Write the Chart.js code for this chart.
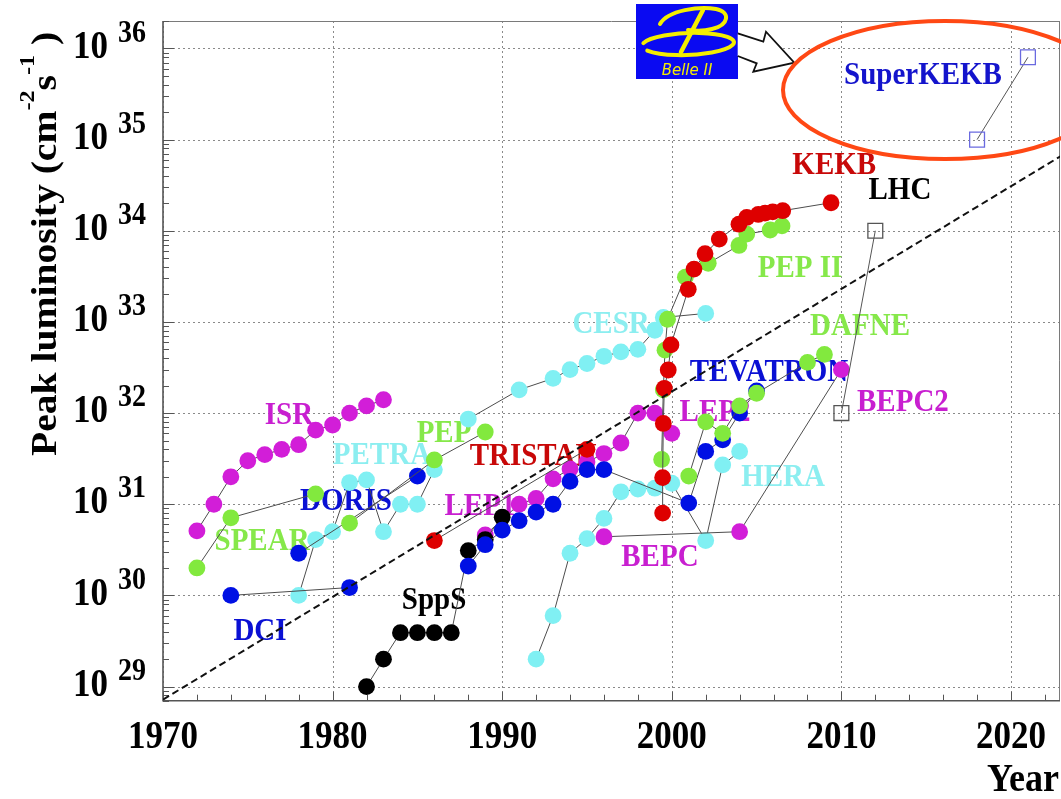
<!DOCTYPE html>
<html>
<head>
<meta charset="utf-8">
<title>Peak luminosity of colliders</title>
<script src="https://cdn.jsdelivr.net/npm/chart.js@4.4.1/dist/chart.umd.min.js"></script>
<style>
  html, body { margin: 0; padding: 0; background: #ffffff; }
  #wrap { width: 1061px; height: 799px; }
</style>
</head>
<body>
<div id="wrap"><canvas id="lumi" width="1061" height="799"></canvas></div>
<script>
// ---- collider peak luminosities (cm^-2 s^-1) by year ----
const petraYears = [1978, 1979, 1980, 1981, 1982, 1983, 1984, 1985, 1986];
const petraLum   = [1.0e30, 4.1e30, 5.0e30, 1.73e31, 1.85e31, 5.0e30, 1.0e31, 1.0e31, 2.4e31];
const cesrYears  = [1988, 1991, 1993, 1994, 1995, 1996, 1997, 1998, 1999, 1999.5, 2002];
const cesrLum    = [8.6e31, 1.8e32, 2.4e32, 3.0e32, 3.5e32, 4.2e32, 4.7e32, 5.0e32, 8.1e32, 1.12e33, 1.24e33];
const heraYears  = [1992, 1993, 1994, 1995, 1996, 1997, 1998, 1999, 2000, 2002, 2003, 2004];
const heraLum    = [2.0e29, 6.0e29, 2.9e30, 4.2e30, 7.0e30, 1.37e31, 1.47e31, 1.5e31, 1.7e31, 4.0e30, 2.7e31, 3.8e31];

const isrYears   = [1972, 1973, 1974, 1975, 1976, 1977, 1978, 1979, 1980, 1981, 1982, 1983];
const isrLum     = [5.1e30, 1.0e31, 2.0e31, 3.0e31, 3.5e31, 4.0e31, 4.5e31, 6.5e31, 7.4e31, 1.0e32, 1.2e32, 1.4e32];
const lepYears   = [1989, 1991, 1992, 1993, 1994, 1995, 1996, 1997, 1998, 1999, 2000];
const lepLum     = [4.6e30, 1.0e31, 1.16e31, 1.9e31, 2.44e31, 2.9e31, 3.6e31, 4.7e31, 1.0e32, 1.0e32, 6.0e31];
const bepcYears  = [1996, 2004, 2010];
const bepcLum    = [4.4e30, 5.0e30, 3.0e32];

const sppsYears  = [1982, 1983, 1984, 1985, 1986, 1987, 1988, 1989, 1990];
const sppsLum    = [1.0e29, 2.0e29, 3.9e29, 3.9e29, 3.9e29, 3.9e29, 3.1e30, 4.1e30, 7.2e30];

const dciYears   = [1974, 1981];
const dciLum     = [1.0e30, 1.22e30];
const dorisYears = [1978, 1985];
const dorisLum   = [2.9e30, 2.04e31];
const tevYears   = [1988, 1989, 1990, 1991, 1992, 1993, 1994, 1995, 1996, 2001, 2002, 2003, 2004, 2005];
const tevLum     = [2.1e30, 3.6e30, 5.2e30, 6.6e30, 8.2e30, 1.0e31, 1.78e31, 2.4e31, 2.4e31, 1.03e31, 3.8e31, 5.1e31, 1.0e32, 1.75e32];

const spearYears = [1972, 1974, 1979];
const spearLum   = [2.0e30, 7.1e30, 1.3e31];
const pepYears   = [1981, 1986, 1989];
const pepLum     = [6.2e30, 3.06e31, 6.2e31];
const pep2Years  = [1999.4, 1999.5, 1999.6, 1999.75, 2000.8, 2002.15, 2003.96, 2004.42, 2005.8, 2006.5];
const pep2Lum    = [3.1e31, 1.8e32, 4.9e32, 1.07e33, 3.1e33, 4.4e33, 6.9e33, 9.2e33, 1.02e34, 1.13e34];
const dafneYears = [2001, 2002, 2003, 2004, 2005, 2008, 2009];
const dafneLum   = [2.04e31, 8.0e31, 6.0e31, 1.2e32, 1.65e32, 3.6e32, 4.4e32];

const tristanYears = [1986, 1995];
const tristanLum   = [4.0e30, 4.0e31];
const kekbYears  = [1999.46, 1999.46, 1999.5, 1999.56, 1999.79, 1999.95, 2000.97, 2001.31, 2001.96, 2002.8, 2003.96, 2004.42, 2005.1, 2005.5, 2005.95, 2006.54, 2009.39];
const kekbLum    = [8.0e30, 1.96e31, 7.7e31, 1.87e32, 2.97e32, 5.6e32, 2.28e33, 3.8e33, 5.6e33, 8.1e33, 1.18e34, 1.4e34, 1.51e34, 1.56e34, 1.61e34, 1.66e34, 2.03e34];

const lhcYears   = [2010, 2012];
const lhcLum     = [1.0e32, 1.0e34];
const skekbYears = [2018, 2021];
const skekbLum   = [1.0e35, 8.0e35];

// trend line (dashed)
const trendYears = [1970, 2023];
const trendLum   = [7.2e28, 6.7e34];

// axis range
const yearMin = 1970, yearMax = 2022.89;
const lumMin = 7.0e28, lumMax = 2.0e36;

// machine name labels: anchor year and log10 of luminosity at the text centre
const labelNames = ['ISR', 'PETRA', 'PEP', 'DORIS', 'SPEAR', 'DCI', 'SppS', 'LEP1', 'TRISTAN', 'CESR',
                    'KEKB', 'LHC', 'PEP II', 'DAFNE', 'TEVATRON', 'LEP2', 'BEPC2', 'HERA', 'BEPC', 'SuperKEKB'];
const labelYears = [1977.43, 1982.91, 1986.57, 1980.79, 1975.84, 1975.72, 1985.98, 1988.69, 1991.82, 1996.42,
                    2009.58, 2013.45, 2007.56, 2011.1, 2005.73, 2002.55, 2013.63, 2006.56, 1999.3, 2014.81];
const labelExps  = [31.968, 31.53, 31.77, 31.025, 30.586, 29.60, 29.94, 30.97, 31.52, 32.967,
                    34.72, 34.435, 33.59, 32.954, 32.44, 32.01, 32.11, 31.29, 30.42, 35.70];

const C = {
  magenta: '#d21ed8', cyan: '#80f0f3', green: '#82e93e', blue: '#0010e4', red: '#de0000', black: '#000000'
};
const T = {
  magenta: '#c81fd0', cyan: '#8ceef0', green: '#86e84a', blue: '#0a10d4', red: '#c80808', black: '#000000', sk: '#1414cc'
};
const labelColors = [T.magenta, T.cyan, T.green, T.blue, T.green, T.blue, T.black, T.magenta, T.red, T.cyan,
                     T.red, T.black, T.green, T.green, T.blue, T.magenta, T.magenta, T.cyan, T.magenta, T.sk];

const pts = (xs, ys) => xs.map((v, i) => ({ x: v, y: ys[i] }));

function machine(name, xs, ys, color, order) {
  return {
    type: 'scatter', label: name, data: pts(xs, ys), showLine: true,
    borderColor: '#4d4d4d', borderWidth: 1, tension: 0,
    pointRadius: 8.4, pointHoverRadius: 8.4,
    pointBackgroundColor: color, pointBorderColor: color, pointBorderWidth: 0,
    order: order
  };
}
function planned(name, xs, ys, edge) {
  return {
    type: 'scatter', label: name, data: pts(xs, ys), showLine: true,
    borderColor: '#555555', borderWidth: 1, tension: 0,
    pointStyle: 'rect', pointRadius: 10.5, pointHoverRadius: 10.5,
    pointBackgroundColor: 'rgba(255,255,255,0)', pointBorderColor: edge, pointBorderWidth: 1.3,
    order: 1
  };
}

const datasets = [
  {
    type: 'scatter', label: 'trend', data: pts(trendYears, trendLum), showLine: true,
    borderColor: '#111111', borderWidth: 2, borderDash: [7, 4], pointRadius: 0, tension: 0, order: 0
  },
  planned('LHC', lhcYears, lhcLum, '#555555'),
  planned('SuperKEKB', skekbYears, skekbLum, '#6a6ae0'),
  machine('KEKB', kekbYears, kekbLum, C.red, 2),
  machine('TRISTAN', tristanYears, tristanLum, C.red, 2),
  machine('PEP II', pep2Years, pep2Lum, C.green, 3),
  machine('DAFNE', dafneYears, dafneLum, C.green, 3),
  machine('PEP', pepYears, pepLum, C.green, 3),
  machine('SPEAR', spearYears, spearLum, C.green, 3),
  machine('TEVATRON', tevYears, tevLum, C.blue, 4),
  machine('DORIS', dorisYears, dorisLum, C.blue, 4),
  machine('DCI', dciYears, dciLum, C.blue, 4),
  machine('SppS', sppsYears, sppsLum, C.black, 5),
  machine('LEP', lepYears, lepLum, C.magenta, 6),
  machine('BEPC', bepcYears, bepcLum, C.magenta, 6),
  machine('ISR', isrYears, isrLum, C.magenta, 6),
  machine('HERA', heraYears, heraLum, C.cyan, 7),
  machine('CESR', cesrYears, cesrLum, C.cyan, 7),
  machine('PETRA', petraYears, petraLum, C.cyan, 7)
];

const SERIF = '"Liberation Serif", "Times New Roman", serif';
const STRETCH = 1.12;

function stretchedText(ctx, txt, x, y, size, color, align) {
  ctx.save();
  ctx.translate(x, y);
  ctx.scale(1, STRETCH);
  ctx.font = 'bold ' + size + 'px ' + SERIF;
  ctx.fillStyle = color;
  ctx.textAlign = align;
  ctx.textBaseline = 'middle';
  ctx.fillText(txt, 0, 0);
  ctx.restore();
}

const decor = {
  id: 'decor',
  beforeDatasetsDraw(chart) {
    const { ctx, chartArea: a, scales: { x, y } } = chart;
    ctx.save();
    // dotted grid at decades
    ctx.strokeStyle = '#8a8a8a';
    ctx.lineWidth = 1;
    ctx.setLineDash([2, 3]);
    for (let yr = Math.ceil(x.min / 10) * 10; yr <= x.max; yr += 10) {
      const px = Math.round(x.getPixelForValue(yr)) + 0.5;
      ctx.beginPath(); ctx.moveTo(px, a.top); ctx.lineTo(px, a.bottom); ctx.stroke();
    }
    const nLo = Math.ceil(Math.log10(y.min)), nHi = Math.floor(Math.log10(y.max));
    for (let n = nLo; n <= nHi; n++) {
      const py = Math.round(y.getPixelForValue(Math.pow(10, n))) + 0.5;
      ctx.beginPath(); ctx.moveTo(a.left, py); ctx.lineTo(a.right, py); ctx.stroke();
    }
    ctx.setLineDash([]);

    // frame
    ctx.strokeStyle = '#7a7a7a'; ctx.lineWidth = 1;
    ctx.beginPath(); ctx.moveTo(a.left, a.top + 0.5); ctx.lineTo(a.right, a.top + 0.5); ctx.stroke();
    ctx.beginPath(); ctx.moveTo(a.right - 0.5, a.top); ctx.lineTo(a.right - 0.5, a.bottom); ctx.stroke();
    ctx.strokeStyle = '#555555'; ctx.lineWidth = 1.6;
    ctx.beginPath(); ctx.moveTo(a.left, a.top); ctx.lineTo(a.left, a.bottom); ctx.lineTo(a.right, a.bottom); ctx.stroke();

    // inward tick marks
    ctx.lineWidth = 1; ctx.strokeStyle = '#555555';
    for (let yr = Math.ceil(x.min / 2) * 2; yr <= x.max; yr += 2) {
      const px = Math.round(x.getPixelForValue(yr)) + 0.5;
      const len = (yr % 10 === 0) ? 9 : 6;
      ctx.beginPath(); ctx.moveTo(px, a.bottom); ctx.lineTo(px, a.bottom - len); ctx.stroke();
    }
    for (let n = nLo - 1; n <= nHi; n++) {
      for (let m = 1; m <= 9; m++) {
        const v = m * Math.pow(10, n);
        if (v < y.min || v > y.max) continue;
        const py = Math.round(y.getPixelForValue(v)) + 0.5;
        const len = (m === 1) ? 11 : 6;
        ctx.beginPath(); ctx.moveTo(a.left, py); ctx.lineTo(a.left + len, py); ctx.stroke();
      }
    }

    // machine names
    labelNames.forEach((name, i) => {
      const px = x.getPixelForValue(labelYears[i]);
      const py = y.getPixelForValue(Math.pow(10, labelExps[i]));
      stretchedText(ctx, name, px, py, 29, labelColors[i], 'center');
    });
    ctx.restore();
  },
  afterDraw(chart) {
    const { ctx, chartArea: a, scales: { x, y } } = chart;
    ctx.save();

    // x tick labels
    for (let yr = Math.ceil(x.min / 10) * 10; yr <= x.max; yr += 10) {
      stretchedText(ctx, String(yr), x.getPixelForValue(yr), 738, 35, '#000', 'center');
    }
    stretchedText(ctx, 'Year', 1059, 781, 36, '#000', 'right');

    // y tick labels: 10 with exponent
    const nLo = Math.ceil(Math.log10(y.min)), nHi = Math.floor(Math.log10(y.max));
    for (let n = nLo; n <= nHi; n++) {
      const py = y.getPixelForValue(Math.pow(10, n));
      stretchedText(ctx, '10', 73, py - 1, 35, '#000', 'left');
      stretchedText(ctx, String(n), 118, py - 15, 28, '#000', 'left');
    }

    // y axis title, rotated
    ctx.save();
    ctx.translate(56, 456);
    ctx.rotate(-Math.PI / 2);
    ctx.scale(1.1, 1);
    ctx.fillStyle = '#000';
    ctx.textBaseline = 'alphabetic';
    ctx.textAlign = 'left';
    const parts = [
      { t: 'Peak luminosity (cm', s: 36, dy: 0 },
      { t: '-2', s: 22, dy: -22 },
      { t: 's', s: 36, dy: 0 },
      { t: '-1', s: 22, dy: -22 },
      { t: ' )', s: 36, dy: 0 }
    ];
    let cx = 0;
    parts.forEach(p => {
      ctx.font = 'bold ' + p.s + 'px ' + SERIF;
      ctx.fillText(p.t, cx, p.dy);
      cx += ctx.measureText(p.t).width;
    });
    ctx.restore();

    // Belle II badge
    ctx.fillStyle = '#0a0af2';
    ctx.fillRect(636, 4, 102, 75);
    ctx.strokeStyle = '#f4ee00';
    ctx.fillStyle = '#f4ee00';
    ctx.lineCap = 'round';
    ctx.lineWidth = 4.5;
    ctx.beginPath(); ctx.moveTo(703, 10); ctx.lineTo(681, 52); ctx.stroke();
    ctx.lineWidth = 4;
    ctx.beginPath();
    ctx.moveTo(660, 24);
    ctx.bezierCurveTo(668, 10, 700, 6, 716, 9);
    ctx.bezierCurveTo(731, 12, 729, 25, 712, 29);
    ctx.bezierCurveTo(705, 31, 695, 31, 688, 30);
    ctx.stroke();
    ctx.beginPath();
    ctx.ellipse(688, 44, 46, 11, -0.04, Math.PI * 1.08, Math.PI * 2.85);
    ctx.stroke();
    ctx.font = 'italic 15px "DejaVu Sans", sans-serif';
    ctx.textAlign = 'center';
    ctx.textBaseline = 'middle';
    ctx.fillText('Belle II', 687, 71);

    // hollow arrow towards the highlight
    const arrow = [[737.7, 33.3], [763.3, 41.7], [766, 31.7], [794.3, 62.7], [753.3, 71.7], [756.7, 63.3], [737.7, 56]];
    ctx.beginPath();
    arrow.forEach((p, i) => i ? ctx.lineTo(p[0], p[1]) : ctx.moveTo(p[0], p[1]));
    ctx.closePath();
    ctx.fillStyle = '#ffffff';
    ctx.fill();
    ctx.beginPath();
    arrow.forEach((p, i) => i ? ctx.lineTo(p[0], p[1]) : ctx.moveTo(p[0], p[1]));
    ctx.strokeStyle = '#111111';
    ctx.lineWidth = 1.8;
    ctx.lineCap = 'butt';
    ctx.lineJoin = 'miter';
    ctx.stroke();

    // highlight ellipse
    ctx.beginPath();
    ctx.ellipse(945, 90, 162, 69, 0, 0, Math.PI * 2);
    ctx.strokeStyle = '#ff4814';
    ctx.lineWidth = 4;
    ctx.stroke();

    ctx.restore();
  }
};

new Chart(document.getElementById('lumi'), {
  type: 'scatter',
  data: { datasets },
  options: {
    responsive: false,
    animation: false,
    devicePixelRatio: 1,
    layout: { autoPadding: false, padding: { left: 163, right: 1, top: 21, bottom: 98.3 } },
    plugins: { legend: { display: false }, tooltip: { enabled: false } },
    scales: {
      x: { type: 'linear', min: yearMin, max: yearMax, display: false },
      y: { type: 'logarithmic', min: lumMin, max: lumMax, display: false }
    }
  },
  plugins: [decor]
});
</script>
</body>
</html>
